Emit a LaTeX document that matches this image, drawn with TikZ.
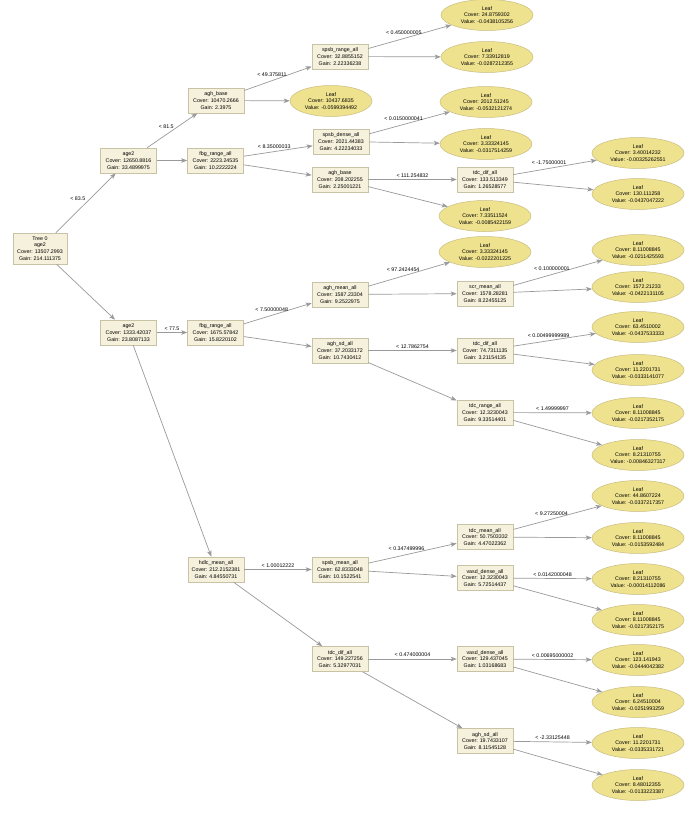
\documentclass[tikz,border=0pt]{standalone}
\usepackage{fontspec}
\setmainfont{Liberation Sans}
\usetikzlibrary{shapes.geometric,arrows.meta}
\definecolor{boxfill}{HTML}{F5F1DC}
\definecolor{boxline}{HTML}{C9C3A6}
\definecolor{leaffill}{HTML}{EFE28E}
\definecolor{leafline}{HTML}{C8BD80}
\definecolor{edgecol}{HTML}{9A9A9A}
\begin{document}
\begin{tikzpicture}[x=1pt,y=-1pt,
 split/.style={rectangle,draw=boxline,fill=boxfill,line width=0.6pt,minimum width=56pt,minimum height=25pt,inner sep=1pt,align=center,font=\fontsize{5.3}{6.7}\selectfont},
 leaf/.style={ellipse,draw=leafline,fill=leaffill,line width=0.5pt,minimum width=92pt,minimum height=31pt,inner sep=0pt,align=center,font=\fontsize{5.3}{6.7}\selectfont},
 conn/.style={draw=edgecol,line width=0.7pt,-{Stealth[length=6pt,width=4.5pt,inset=1.5pt]}},
 lab/.style={font=\fontsize{5.3}{6}\selectfont,inner sep=0.5pt,anchor=south,yshift=1.5pt}]
\useasboundingbox[fill=white] (0,0) rectangle (688,817);
% level 0
\node[split,minimum width=54pt,minimum height=31pt] (r) at (40,248.5) {Tree 0\\age2\\Cover: 13507.2993\\Gain: 214.111375};
% level 1
\node[split] (a1) at (128.5,160.5) {age2\\Cover: 12650.8816\\Gain: 33.4899975};
\node[split] (a2) at (128.5,332.5) {age2\\Cover: 1333.42037\\Gain: 23.8087133};
% level 2
\node[split] (b1) at (216,100.5) {agh\_base\\Cover: 10470.2666\\Gain: 2.3975};
\node[split] (b2) at (215.5,160.5) {fbg\_range\_all\\Cover: 2223.24535\\Gain: 10.2222224};
\node[split] (b3) at (215.5,332.5) {fbg\_range\_all\\Cover: 1675.57842\\Gain: 15.8220102};
\node[split] (b4) at (216,569.5) {hdlc\_mean\_all\\Cover: 212.2152381\\Gain: 4.84550731};
% level 3
\node[split] (c1) at (340,56.5) {spsb\_range\_all\\Cover: 32.8855152\\Gain: 2.22336238};
\node[leaf,minimum width=82pt] (lb1) at (331,101) {Leaf\\Cover: 10437.6835\\Value: -0.0599394492};
\node[split] (c2) at (341,141.5) {spsb\_dense\_all\\Cover: 2021.44383\\Gain: 4.22234033};
\node[split] (c3) at (340,179.5) {agh\_base\\Cover: 208.202255\\Gain: 2.25001221};
\node[split] (c4) at (340,294.5) {agh\_mean\_all\\Cover: 1587.23304\\Gain: 9.2522975};
\node[split] (c5) at (340,350.5) {agh\_sd\_all\\Cover: 37.2033172\\Gain: 10.7430412};
\node[split] (c6) at (340,569.5) {spsb\_mean\_all\\Cover: 62.8333048\\Gain: 10.1522541};
\node[split] (c7) at (340,659) {tdc\_dif\_all\\Cover: 149.227256\\Gain: 5.32977031};
% level 4
\node[leaf] (m1) at (487,15) {Leaf\\Cover: 24.8759302\\Value: -0.0438105256};
\node[leaf] (m2) at (487,57) {Leaf\\Cover: 7.33912819\\Value: -0.0287212355};
\node[leaf] (m3) at (486,102) {Leaf\\Cover: 2012.51245\\Value: -0.0532121274};
\node[leaf] (m4) at (486,144) {Leaf\\Cover: 3.33324145\\Value: -0.0317514259};
\node[split] (m5) at (485,179.5) {tdc\_dif\_all\\Cover: 133.513349\\Gain: 1.26528577};
\node[leaf] (m6) at (485,216) {Leaf\\Cover: 7.33511524\\Value: -0.0085422159};
\node[leaf] (m7) at (485,252) {Leaf\\Cover: 3.33324145\\Value: -0.0222201225};
\node[split] (m8) at (485,293.5) {scr\_mean\_all\\Cover: 1578.28281\\Gain: 8.22455125};
\node[split] (m9) at (485,350.5) {tdc\_dif\_all\\Cover: 74.7311135\\Gain: 3.21154135};
\node[split] (m10) at (485,412.5) {tdc\_range\_all\\Cover: 12.3230043\\Gain: 9.33514401};
\node[split] (m11) at (485,537) {tdc\_mean\_all\\Cover: 50.7503332\\Gain: 4.47022362};
\node[split] (m12) at (485,578) {vasd\_dense\_all\\Cover: 12.3230043\\Gain: 5.72514437};
\node[split] (m13) at (485,659) {vasd\_dense\_all\\Cover: 129.437045\\Gain: 1.03168683};
\node[split] (m14) at (485,741) {agh\_sd\_all\\Cover: 19.7433107\\Gain: 8.11545128};
% level 5
\node[leaf] (n1) at (638,153) {Leaf\\Cover: 3.40014232\\Value: -0.00325262551};
\node[leaf] (n2) at (638,194) {Leaf\\Cover: 130.111258\\Value: -0.0437047222};
\node[leaf] (n3) at (638,250) {Leaf\\Cover: 8.11008845\\Value: -0.0211425593};
\node[leaf] (n4) at (638,287) {Leaf\\Cover: 1572.21233\\Value: -0.0422131105};
\node[leaf] (n5) at (638,327) {Leaf\\Cover: 63.4510002\\Value: -0.0437533333};
\node[leaf] (n6) at (638,370) {Leaf\\Cover: 11.2201731\\Value: -0.0333141077};
\node[leaf] (n7) at (638,413) {Leaf\\Cover: 8.11008845\\Value: -0.0217352175};
\node[leaf] (n8) at (638,455) {Leaf\\Cover: 8.21310755\\Value: -0.00846327317};
\node[leaf] (n9) at (638,496) {Leaf\\Cover: 44.8607224\\Value: -0.0337217357};
\node[leaf] (n10) at (638,538) {Leaf\\Cover: 8.11008845\\Value: -0.0153592484};
\node[leaf] (n11) at (638,579) {Leaf\\Cover: 8.21310755\\Value: -0.00014112086};
\node[leaf] (n12) at (638,620) {Leaf\\Cover: 8.11008845\\Value: -0.0217352175};
\node[leaf] (n13) at (638,660) {Leaf\\Cover: 123.141943\\Value: -0.0444042382};
\node[leaf] (n14) at (638,702) {Leaf\\Cover: 6.24510004\\Value: -0.0251993259};
\node[leaf] (n15) at (638,743) {Leaf\\Cover: 11.2201731\\Value: -0.0335331721};
\node[leaf] (n16) at (638,785) {Leaf\\Cover: 8.48012355\\Value: -0.0133223387};
% edges
\draw[conn] (r) -- node[lab,pos=0.5,xshift=-8pt]{< 83.5} (a1);
\draw[conn] (r) -- (a2);
\draw[conn] (a1) -- node[lab,xshift=-6pt]{< 81.5} (b1);
\draw[conn] (a1) -- (b2);
\draw[conn] (a2) -- node[lab]{< 77.5} (b3);
\draw[conn] (a2) -- (b4);
\draw[conn] (b1) -- node[lab,xshift=-6pt]{< 49.375811} (c1);
\draw[conn] (b1) -- (lb1);
\draw[conn] (b2) -- node[lab,xshift=-4pt]{< 8.35000033} (c2);
\draw[conn] (b2) -- (c3);
\draw[conn] (b3) -- node[lab,xshift=-6pt]{< 7.50000048} (c4);
\draw[conn] (b3) -- (c5);
\draw[conn] (b4) -- node[lab]{< 1.00012222} (c6);
\draw[conn] (b4) -- (c7);
\draw[conn] (c1) -- node[lab,xshift=-6pt]{< 0.450000005} (m1);
\draw[conn] (c1) -- (m2);
\draw[conn] (c2) -- node[lab,xshift=-6pt]{< 0.0150000041} (m3);
\draw[conn] (c2) -- (m4);
\draw[conn] (c3) -- node[lab]{< 111.254832} (m5);
\draw[conn] (c3) -- (m6);
\draw[conn] (c4) -- node[lab,xshift=-6pt]{< 97.2424454} (m7);
\draw[conn] (c4) -- (m8);
\draw[conn] (c5) -- node[lab]{< 12.7862754} (m9);
\draw[conn] (c5) -- (m10);
\draw[conn] (c6) -- node[lab,xshift=-6pt]{< 0.347499996} (m11);
\draw[conn] (c6) -- (m12);
\draw[conn] (c7) -- node[lab]{< 0.474000004} (m13);
\draw[conn] (c7) -- (m14);
\draw[conn] (m5) -- node[lab,xshift=-6pt]{< -1.75000001} (n1);
\draw[conn] (m5) -- (n2);
\draw[conn] (m8) -- node[lab,xshift=-6pt]{< 0.100000001} (n3);
\draw[conn] (m8) -- (n4);
\draw[conn] (m9) -- node[lab,xshift=-6pt]{< 0.00499999989} (n5);
\draw[conn] (m9) -- (n6);
\draw[conn] (m10) -- node[lab]{< 1.49999997} (n7);
\draw[conn] (m10) -- (n8);
\draw[conn] (m11) -- node[lab,xshift=-6pt]{< 9.27250004} (n9);
\draw[conn] (m11) -- (n10);
\draw[conn] (m12) -- node[lab]{< 0.0142000048} (n11);
\draw[conn] (m12) -- (n12);
\draw[conn] (m13) -- node[lab]{< 0.00695000002} (n13);
\draw[conn] (m13) -- (n14);
\draw[conn] (m14) -- node[lab]{< -2.33125448} (n15);
\draw[conn] (m14) -- (n16);
\end{tikzpicture}
\end{document}
